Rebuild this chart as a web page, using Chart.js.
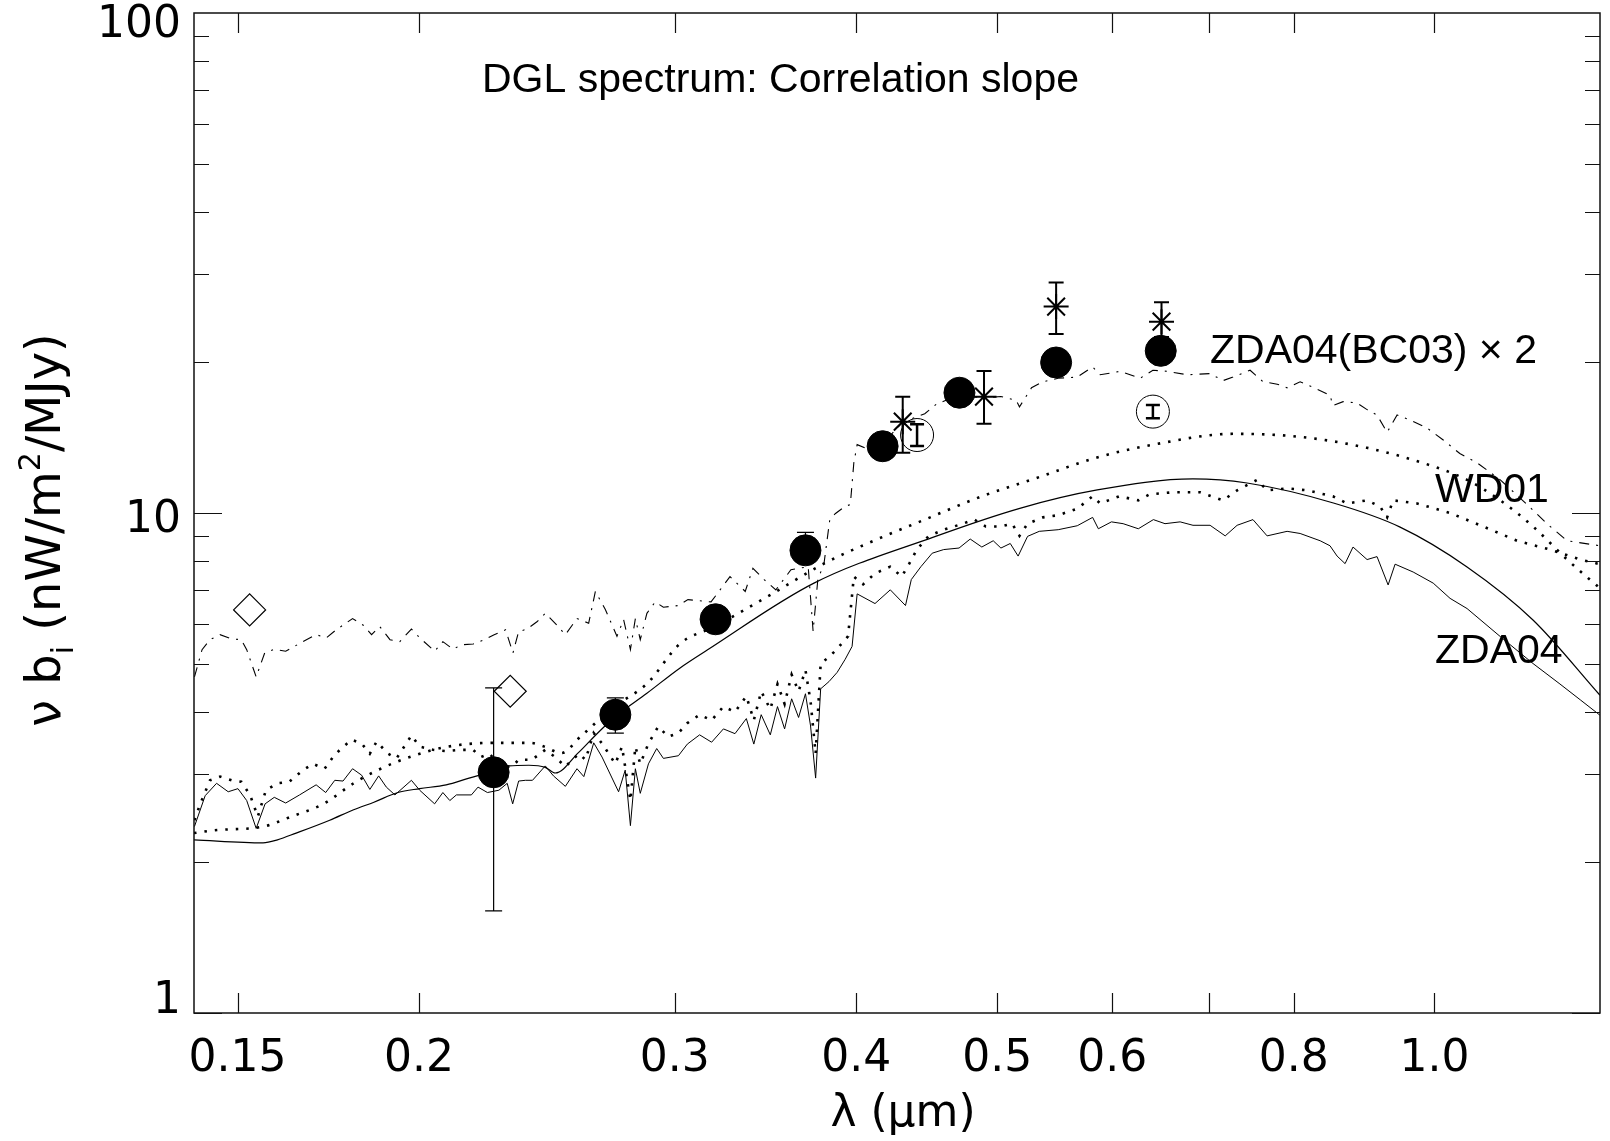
<!DOCTYPE html>
<html>
<head>
<meta charset="utf-8">
<script src="https://cdn.jsdelivr.net/npm/chart.js@4/dist/chart.umd.min.js"></script>
<style>
  html, body { margin: 0; padding: 0; background: #fff; }
  canvas { display: block; }
</style>
</head>
<body>
<canvas id="grafico" width="1610" height="1141"></canvas>
<script>
// Espectro DGL: pendiente de correlacion frente a longitud de onda (micras)

// modelo ZDA04 (linea continua suave)
const zdaLam = [0.140, 0.1562, 0.1598, 0.1646, 0.1736, 0.1803, 0.1862, 0.1934, 0.2002, 0.2088, 0.2165, 0.2245,
  0.2306, 0.2380, 0.2443, 0.2482, 0.2576, 0.2657, 0.2737, 0.2870, 0.3025, 0.3158, 0.374, 0.452, 0.519,
  0.586, 0.682, 0.743, 0.852, 0.947, 1.053, 1.169, 1.30];
const zdaVal = [2.22, 2.19, 2.22, 2.29, 2.43, 2.55, 2.64, 2.76, 2.81, 2.86, 2.95, 3.04,
  3.12, 3.13, 3.10, 3.02, 3.32, 3.64, 3.94, 4.36, 4.90, 5.32, 7.24, 8.95, 10.23,
  11.12, 11.70, 11.48, 10.47, 9.37, 7.80, 6.11, 4.32];

// modelo WD01 (punteado suave)
const wdLam = [0.140, 0.1447, 0.1563, 0.1633, 0.1719, 0.1803, 0.1882, 0.1983, 0.2094, 0.2251, 0.2386, 0.2439,
  0.2506, 0.2583, 0.2722, 0.2871, 0.3025, 0.3196, 0.350, 0.3799, 0.407, 0.4458, 0.488, 0.5345, 0.585,
  0.6405, 0.7267, 0.8082, 0.8987, 0.998, 1.053, 1.110, 1.169, 1.234, 1.30];
const wdVal = [2.29, 2.32, 2.36, 2.47, 2.62, 2.88, 3.08, 3.27, 3.41, 3.47, 3.47, 3.41,
  3.31, 3.57, 4.09, 4.56, 5.48, 5.93, 6.89, 7.92, 8.69, 9.70, 10.8, 11.8, 12.9,
  13.7, 14.4, 14.2, 13.5, 12.4, 11.65, 10.6, 9.4, 8.07, 7.07];

// espectro ZDA04(BC03) (continua con ruido)
const bcLam = [0.1401, 0.1425, 0.1451, 0.1478, 0.1501, 0.1522, 0.1545, 0.1567, 0.1590, 0.1619, 0.1655, 0.1699,
  0.1725, 0.1750, 0.1773, 0.1800, 0.1826, 0.1850, 0.1876, 0.1899, 0.1925, 0.1976, 0.2002, 0.2050, 0.2077,
  0.2100, 0.2122, 0.2173, 0.2196, 0.2229, 0.2270, 0.2300, 0.2320, 0.2342, 0.2367, 0.2394, 0.2443, 0.2475,
  0.2522, 0.2569, 0.2597, 0.2638, 0.2673, 0.2744, 0.2773, 0.2796, 0.2818, 0.2840, 0.2877, 0.2915, 0.2946,
  0.3017, 0.306, 0.312, 0.318, 0.324, 0.330, 0.336, 0.340, 0.344, 0.349, 0.353, 0.357, 0.361, 0.365, 0.369,
  0.372, 0.375, 0.378, 0.383, 0.388, 0.393, 0.3973, 0.4005, 0.412, 0.4221, 0.4324, 0.4364, 0.4431, 0.4511,
  0.4594, 0.4707, 0.4791, 0.488, 0.4969, 0.503, 0.5105, 0.5169, 0.5247, 0.5345, 0.5508, 0.5677, 0.5817,
  0.587, 0.5993, 0.6105, 0.6254, 0.6405, 0.6524, 0.6682, 0.682, 0.7007, 0.7177, 0.7314, 0.750, 0.767,
  0.7917, 0.8082, 0.8343, 0.8474, 0.857, 0.8679, 0.8789, 0.8987, 0.913, 0.9292, 0.9395, 0.9668, 0.998,
  1.025, 1.053, 1.110, 1.169, 1.220, 1.260, 1.30];
const bcVal = [2.36, 2.72, 2.88, 2.77, 2.81, 2.66, 2.34, 2.62, 2.70, 2.63, 2.73, 2.86,
  2.76, 2.92, 2.91, 3.08, 2.99, 2.80, 2.98, 2.83, 2.73, 2.92, 2.79, 2.62, 2.76,
  2.66, 2.73, 2.73, 2.83, 2.76, 2.79, 2.88, 2.62, 2.91, 2.92, 2.92, 3.12, 2.98,
  2.84, 3.08, 2.97, 3.47, 3.25, 2.77, 3.06, 2.37, 3.08, 2.75, 3.15, 3.38, 3.23,
  3.27, 3.45, 3.60, 3.48, 3.70, 3.62, 3.88, 3.45, 3.95, 3.60, 4.10, 3.70, 4.25, 3.90, 4.35,
  3.75, 2.95, 4.45, 4.60, 4.80, 5.10, 5.41, 6.89, 6.59, 7.02, 6.53, 7.36, 7.81, 8.31,
  8.45, 8.51, 8.87, 8.55, 8.80, 8.51, 8.69, 8.20, 8.98, 9.19, 9.26, 9.43, 9.80,
  9.30, 9.60, 9.52, 9.30, 9.70, 9.52, 9.60, 9.45, 9.45, 9.00, 9.45, 9.70, 9.00,
  9.19, 9.10, 8.80, 8.60, 8.20, 7.92, 8.55, 8.07, 8.18, 7.18, 7.90, 7.62, 7.24,
  6.75, 6.44, 5.66, 5.00, 4.55, 4.23, 3.94];

// espectro punteado con ruido
const dotLam = [0.1401, 0.1414, 0.1436, 0.1459, 0.1486, 0.1509, 0.1530, 0.1549, 0.1569, 0.1598, 0.1628, 0.1664,
  0.1690, 0.1722, 0.1745, 0.1764, 0.1797, 0.1826, 0.1850, 0.1870, 0.1904, 0.1930, 0.1976, 0.2002, 0.2045,
  0.2088, 0.2133, 0.2179, 0.2206, 0.2235, 0.2282, 0.2318, 0.2342, 0.2392, 0.2443, 0.2482, 0.2522, 0.2576,
  0.2604, 0.2638, 0.2673, 0.2730, 0.2759, 0.2796, 0.2818, 0.2840, 0.2877, 0.2922, 0.2969, 0.3017, 0.306,
  0.312, 0.318, 0.324, 0.330, 0.336, 0.340, 0.344, 0.349, 0.353, 0.357, 0.361, 0.365, 0.369, 0.372, 0.375,
  0.378, 0.383, 0.388, 0.3948, 0.3984, 0.4043, 0.412, 0.4221, 0.4298, 0.435, 0.4403, 0.4483, 0.4594, 0.4735,
  0.4822, 0.491, 0.503, 0.512, 0.518, 0.5247, 0.5376, 0.5508, 0.5677, 0.5817, 0.5887, 0.6068, 0.6254,
  0.6367, 0.6603, 0.6896, 0.7153, 0.7314, 0.755, 0.767, 0.7917, 0.8172, 0.8513, 0.8708, 0.8987, 0.9174,
  0.9277, 0.9366, 0.9729, 1.025, 1.080, 1.140, 1.201, 1.26, 1.30];
const dotVal = [2.43, 2.62, 2.92, 2.97, 2.92, 2.90, 2.73, 2.47, 2.79, 2.88, 2.90, 3.06,
  3.15, 3.08, 3.25, 3.36, 3.52, 3.46, 3.30, 3.49, 3.30, 3.23, 3.59, 3.41, 3.36,
  3.34, 3.36, 3.36, 3.25, 3.30, 3.11, 3.11, 3.21, 3.21, 3.36, 3.25, 3.11, 3.30,
  3.21, 3.63, 3.46, 3.15, 3.41, 2.66, 3.41, 3.15, 3.46, 3.74, 3.57, 3.63, 3.80,
  3.95, 3.85, 4.10, 4.00, 4.30, 3.85, 4.40, 4.05, 4.55, 4.15, 4.75, 4.40, 4.85, 4.20, 3.30,
  5.00, 5.15, 5.35, 5.67, 7.46, 7.20, 7.57, 7.81, 7.46, 7.92, 8.45, 8.98, 9.26, 9.52,
  9.70, 9.40, 9.40, 9.52, 9.00, 9.52, 9.80, 9.90, 10.2, 10.8, 10.45, 10.8, 10.6,
  10.9, 11.0, 11.0, 10.6, 11.1, 11.65, 11.1, 11.2, 11.1, 10.8, 10.45, 10.6, 10.3,
  9.8, 10.6, 10.45, 10.0, 9.4, 8.8, 8.45, 8.07, 7.9];

// espectro raya-punto (el de arriba)
const dashLam = [0.1401, 0.1418, 0.1436, 0.1459, 0.1486, 0.1509, 0.1522, 0.1545, 0.1566, 0.1590, 0.1619, 0.1673,
  0.1699, 0.1727, 0.1754, 0.1800, 0.1830, 0.1855, 0.1879, 0.1910, 0.1940, 0.1976, 0.2002, 0.2050, 0.2077,
  0.2111, 0.2139, 0.2179, 0.2218, 0.2253, 0.2294, 0.2321, 0.2342, 0.2373, 0.2411, 0.2443, 0.2488, 0.2522,
  0.2569, 0.2617, 0.2645, 0.2687, 0.2737, 0.2766, 0.2796, 0.2818, 0.2840, 0.2870, 0.2908, 0.2946, 0.3017,
  0.3063, 0.3177, 0.3274, 0.3354, 0.3395, 0.3456, 0.3521, 0.3606, 0.3706, 0.3735, 0.3763, 0.380, 0.3835,
  0.387, 0.3927, 0.3962, 0.3984, 0.4005, 0.4078, 0.417, 0.425, 0.4305, 0.4458, 0.454, 0.470, 0.490, 0.503,
  0.5154, 0.518, 0.528, 0.5376, 0.5508, 0.5677, 0.5817, 0.5887, 0.6076, 0.6272, 0.640, 0.6546, 0.6758,
  0.7007, 0.7153, 0.7267, 0.7466, 0.7622, 0.7794, 0.7917, 0.8082, 0.830, 0.8474, 0.8513, 0.8652, 0.8845,
  0.8987, 0.913, 0.9277, 0.9425, 0.962, 0.988, 1.014, 1.041, 1.070, 1.110, 1.158, 1.196, 1.234, 1.30];
const dashVal = [4.70, 5.33, 5.58, 5.71, 5.60, 5.58, 5.33, 4.70, 5.25, 5.34, 5.29, 5.58,
  5.71, 5.63, 5.84, 6.15, 5.97, 5.71, 5.93, 5.58, 5.53, 5.86, 5.63, 5.29, 5.53,
  5.34, 5.45, 5.47, 5.58, 5.71, 5.84, 5.25, 5.79, 5.86, 6.06, 6.30, 5.97, 5.71,
  6.15, 6.02, 6.97, 6.41, 5.67, 6.12, 5.33, 6.15, 5.58, 6.30, 6.64, 6.48, 6.53,
  6.71, 6.64, 7.46, 6.97, 7.75, 7.36, 7.02, 7.70, 7.81, 5.80, 7.36, 7.92, 9.70,
  9.98, 10.3, 10.4, 12.6, 13.7, 13.4, 13.8, 14.6, 15.2, 15.8, 16.5, 17.2, 17.0, 17.1,
  16.8, 16.3, 17.8, 18.3, 18.6, 18.7, 19.6, 18.9, 19.2, 18.6, 19.3, 19.2, 18.9,
  19.0, 18.4, 18.7, 19.3, 18.3, 18.1, 17.8, 18.3, 17.7, 17.2, 16.4, 16.7, 16.6,
  16.1, 15.7, 14.5, 15.7, 15.35, 14.8, 14.0, 13.15, 12.6, 11.65, 10.4, 9.5, 8.8, 8.6];

// circulos rellenos: ZDA04(BC03) x 2
const bandLam = [0.2251, 0.273, 0.320, 0.369, 0.417, 0.471, 0.549, 0.648];
const bandVal = [3.03, 3.95, 6.13, 8.42, 13.6, 17.4, 20.0, 21.1];
const bandLow = [1.60, 3.63, null, 8.05, null, null, null, null];
const bandHigh = [4.47, 4.27, null, 9.15, null, null, null, null];

// asteriscos con barras de error
const starLam = [0.4305, 0.4897, 0.549, 0.6488];
const starVal = [15.23, 17.09, 25.87, 24.14];
const starLow = [13.20, 15.09, 22.8, 22.5];
const starHigh = [17.09, 19.24, 28.9, 26.4];

// circulos abiertos con barra de error pequena
const ringLam = [0.4404, 0.640];
const ringVal = [14.32, 15.95];
const ringLow = [13.62, 15.47];
const ringHigh = [15.05, 16.45];

// rombos abiertos
const diamLam = [0.1529, 0.2311];
const diamVal = [6.40, 4.40];

// marcas y etiquetas de los ejes
const xTicks = [0.15, 0.2, 0.3, 0.4, 0.5, 0.6, 0.7, 0.8, 1.0];
const xLabels = ['0.15', '0.2', '0.3', '0.4', '0.5', '0.6', '', '0.8', '1.0'];
const yLabelVals = [1, 10, 100];
const yLabels = ['1', '10', '100'];

const puntos = (lam, val) => lam.map((l, i) => ({ x: l, y: val[i] }));

function barras(ctx, xs, ys, lam, low, high, cap, ancho) {
  ctx.save();
  ctx.strokeStyle = '#000';
  ctx.lineWidth = ancho;
  lam.forEach((l, i) => {
    if (low[i] == null) return;
    const px = xs.getPixelForValue(l);
    const y1 = ys.getPixelForValue(low[i]);
    const y2 = ys.getPixelForValue(high[i]);
    ctx.beginPath();
    ctx.moveTo(px, y1); ctx.lineTo(px, y2);
    ctx.moveTo(px - cap, y1); ctx.lineTo(px + cap, y1);
    ctx.moveTo(px - cap, y2); ctx.lineTo(px + cap, y2);
    ctx.stroke();
  });
  ctx.restore();
}

// texto con sub/superindices: partes [texto, desplazamiento (em), escala]
function textoRico(ctx, partes, x, y, size, familia) {
  let total = 0;
  partes.forEach(p => {
    ctx.font = `${Math.round(size * p[2])}px ${familia}`;
    total += ctx.measureText(p[0]).width;
  });
  let cx = x - total / 2;
  partes.forEach(p => {
    ctx.font = `${Math.round(size * p[2])}px ${familia}`;
    ctx.fillText(p[0], cx, y + p[1] * size);
    cx += ctx.measureText(p[0]).width;
  });
}

const marco = {
  id: 'marco',
  beforeDatasetsDraw(chart) {
    const ctx = chart.ctx;
    const xs = chart.scales.x, ys = chart.scales.y;
    barras(ctx, xs, ys, bandLam, bandLow, bandHigh, 8.5, 1.2);
    barras(ctx, xs, ys, starLam, starLow, starHigh, 7.5, 2);
    barras(ctx, xs, ys, ringLam, ringLow, ringHigh, 7, 2.5);
  },
  afterDraw(chart) {
    const ctx = chart.ctx;
    const { left, right, top, bottom } = chart.chartArea;
    const xs = chart.scales.x, ys = chart.scales.y;
    ctx.save();
    ctx.strokeStyle = '#111';
    ctx.lineWidth = 1.5;
    ctx.strokeRect(left, top, right - left, bottom - top);

    // marcas hacia dentro
    ctx.beginPath();
    xTicks.forEach(v => {
      const px = Math.round(xs.getPixelForValue(v)) + 0.5;
      ctx.moveTo(px, bottom); ctx.lineTo(px, bottom - 20);
      ctx.moveTo(px, top); ctx.lineTo(px, top + 20);
    });
    for (let d = 1; d < 100; d *= 10) {
      for (let m = 1; m <= 9; m++) {
        const py = Math.round(ys.getPixelForValue(m * d)) + 0.5;
        const len = m === 1 ? 28 : 15;
        ctx.moveTo(left, py); ctx.lineTo(left + len, py);
        ctx.moveTo(right, py); ctx.lineTo(right - len, py);
      }
    }
    ctx.lineWidth = 1.2;
    ctx.stroke();

    ctx.fillStyle = '#000';
    ctx.font = '44px "DejaVu Sans"';
    ctx.textAlign = 'center';
    ctx.textBaseline = 'alphabetic';
    xTicks.forEach((v, i) => {
      if (xLabels[i]) ctx.fillText(xLabels[i], xs.getPixelForValue(v), 1071);
    });
    ctx.textAlign = 'right';
    const ajusteY = [0, 19, 24];
    yLabelVals.forEach((v, i) => {
      ctx.fillText(yLabels[i], 181, ys.getPixelForValue(v) + ajusteY[i]);
    });

    // titulos de ejes
    ctx.textAlign = 'left';
    textoRico(ctx, [['λ (μm)', 0, 1]], 903, 1126, 44, '"DejaVu Sans"');
    ctx.save();
    ctx.translate(60, 530);
    ctx.rotate(-Math.PI / 2);
    textoRico(ctx, [['ν b', 0, 1], ['i', 0.28, 0.62], [' (nW/m', 0, 1], ['2', -0.42, 0.62], ['/MJy)', 0, 1]],
      0, 0, 48, '"DejaVu Sans"');
    ctx.restore();

    // rotulos
    ctx.font = '41px "Liberation Sans", Arial, sans-serif';
    ctx.fillText('DGL spectrum: Correlation slope', 482, 92);
    ctx.fillText('ZDA04(BC03) × 2', 1210, 363);
    ctx.fillText('WD01', 1435, 502);
    ctx.fillText('ZDA04', 1435, 663);
    ctx.restore();
  }
};

const linea = (lam, val, extra) => Object.assign({
  data: puntos(lam, val), showLine: true, pointRadius: 0, borderColor: '#000',
  backgroundColor: '#000', borderWidth: 1, tension: 0, fill: false
}, extra);

new Chart(document.getElementById('grafico'), {
  type: 'scatter',
  data: {
    datasets: [
      { label: 'ZDA04(BC03) x 2', data: puntos(bandLam, bandVal), pointStyle: 'circle', pointRadius: 15.5,
        backgroundColor: '#000', borderColor: '#000', borderWidth: 1 },
      { label: 'asteriscos', data: puntos(starLam, starVal), pointStyle: 'star', pointRadius: 12.5,
        borderColor: '#000', backgroundColor: '#000', borderWidth: 2 },
      { label: 'anillos', data: puntos(ringLam, ringVal), pointStyle: 'circle', pointRadius: 16.5,
        borderColor: '#000', backgroundColor: 'rgba(0,0,0,0)', borderWidth: 1 },
      { label: 'rombos', data: puntos(diamLam, diamVal), pointStyle: 'rectRot', pointRadius: 16,
        borderColor: '#000', backgroundColor: 'rgba(0,0,0,0)', borderWidth: 1.2 },
      linea(zdaLam, zdaVal, { label: 'ZDA04', borderWidth: 1.2, cubicInterpolationMode: 'monotone' }),
      linea(wdLam, wdVal, { label: 'WD01', borderWidth: 2.6, borderDash: [2.5, 8], cubicInterpolationMode: 'monotone' }),
      linea(bcLam, bcVal, { label: 'BC03', borderWidth: 1 }),
      linea(dotLam, dotVal, { label: 'punteado', borderWidth: 2.6, borderDash: [2.5, 8] }),
      linea(dashLam, dashVal, { label: 'raya-punto', borderWidth: 1.1, borderDash: [10, 7, 2, 7] })
    ]
  },
  options: {
    responsive: false,
    animation: false,
    devicePixelRatio: 1,
    layout: { autoPadding: false, padding: { left: 194, right: 10, top: 13, bottom: 128 } },
    plugins: { legend: { display: false }, tooltip: { enabled: false } },
    scales: {
      x: { type: 'logarithmic', min: 0.14, max: 1.3, display: false },
      y: { type: 'logarithmic', min: 1, max: 100, display: false }
    }
  },
  plugins: [marco]
});
</script>
</body>
</html>
